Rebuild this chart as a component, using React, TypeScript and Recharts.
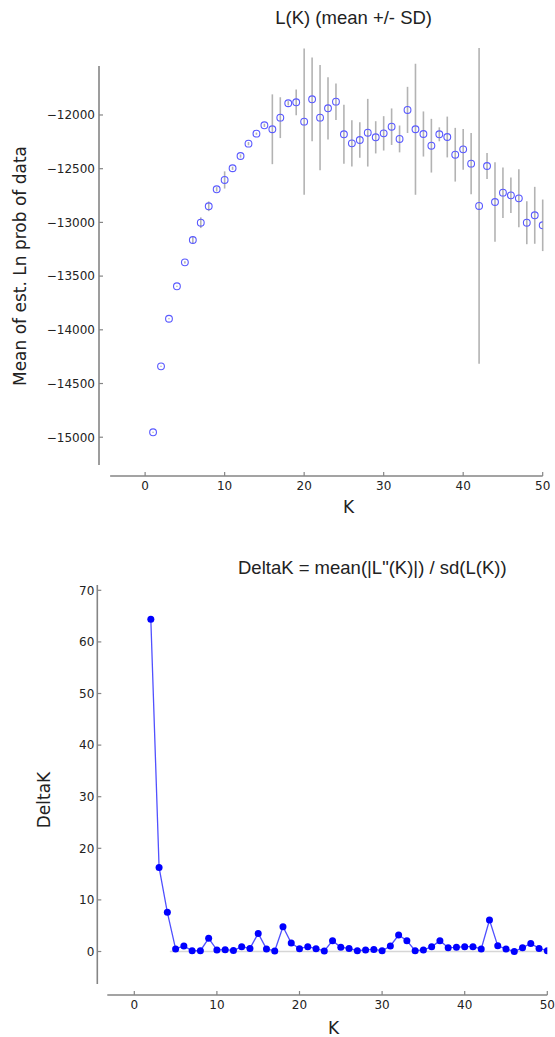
import React from 'react';
import {
  ScatterChart,
  Scatter,
  ErrorBar,
  LineChart,
  Line,
  XAxis,
  YAxis,
  ReferenceLine,
} from 'recharts';

// L(K) per K: mean and SD of the estimated ln prob of data
const K_VALUES = [
  1, 2, 3, 4, 5, 6, 7, 8, 9, 10, 11, 12, 13, 14, 15, 16, 17, 18, 19, 20, 21,
  22, 23, 24, 25, 26, 27, 28, 29, 30, 31, 32, 33, 34, 35, 36, 37, 38, 39, 40,
  41, 42, 43, 44, 45, 46, 47, 48, 49, 50,
];
const LNP_MEAN = [
  -14954, -14340, -13897, -13595, -13372, -13164, -13003, -12850, -12692,
  -12605, -12496, -12382, -12267, -12174, -12096, -12133, -12025, -11891,
  -11882, -12062, -11854, -12025, -11938, -11876, -12180, -12264, -12233,
  -12165, -12208, -12171, -12109, -12223, -11953, -12133, -12177, -12286,
  -12180, -12205, -12370, -12320, -12453, -12847, -12475, -12810, -12723,
  -12748, -12776, -13003, -12934, -13027,
];
const LNP_SD = [
  5, 5, 5, 5, 10, 35, 50, 45, 20, 80, 15, 15, 15, 10, 15, 325, 190, 20, 120,
  680, 390, 490, 290, 170, 275, 215, 165, 315, 150, 160, 170, 125, 215, 610,
  210, 250, 65, 190, 250, 190, 285, 1470, 120, 370, 235, 165, 270, 200, 265,
  240,
];

// DeltaK per K (K = 2..50)
const DELTA_K_VALUES = [
  2, 3, 4, 5, 6, 7, 8, 9, 10, 11, 12, 13, 14, 15, 16, 17, 18, 19, 20, 21, 22,
  23, 24, 25, 26, 27, 28, 29, 30, 31, 32, 33, 34, 35, 36, 37, 38, 39, 40, 41,
  42, 43, 44, 45, 46, 47, 48, 49, 50,
];
const DELTA_K = [
  64.4, 16.3, 7.6, 0.5, 1.07, 0.15, 0.15, 2.55, 0.3, 0.35, 0.2, 0.93, 0.6, 3.5,
  0.5, 0.1, 4.8, 1.65, 0.55, 0.93, 0.55, 0.1, 2.1, 0.8, 0.6, 0.15, 0.3, 0.4,
  0.15, 1.07, 3.2, 2.1, 0.15, 0.3, 0.9, 2.1, 0.75, 0.8, 0.93, 0.93, 0.5, 6.1,
  1.1, 0.5, 0.0, 0.75, 1.55, 0.6, 0.15,
];

const K_TICKS = [0, 10, 20, 30, 40, 50];
const LNP_TICKS = [-15000, -14500, -14000, -13500, -13000, -12500, -12000];
const DELTA_TICKS = [0, 10, 20, 30, 40, 50, 60, 70];

const AXIS = '#858585';
const TEXT = '#222';
const TICK_FONT = '"DejaVu Sans", sans-serif';
const TITLE_FONT = '"Liberation Sans", Arial, sans-serif';

const fmtMinus = (v: number) => (v < 0 ? `\u2212${Math.abs(v)}` : String(v));

function BottomTick({ x, y, payload }: any) {
  return (
    <g>
      <line x1={x} y1={y} x2={x} y2={y - 4} stroke={AXIS} strokeWidth={1.2} />
      <text
        x={x}
        y={y + 14}
        textAnchor="middle"
        fontSize={12}
        fontFamily={TICK_FONT}
        fill={TEXT}
      >
        {payload.value}
      </text>
    </g>
  );
}

function LeftTick({ x, y, payload, gap }: any) {
  return (
    <g>
      <line x1={x} y1={y} x2={x + 4} y2={y} stroke={AXIS} strokeWidth={1.2} />
      <text
        x={x - gap}
        y={y}
        dy="0.36em"
        textAnchor="end"
        fontSize={12}
        fontFamily={TICK_FONT}
        fill={TEXT}
      >
        {fmtMinus(payload.value)}
      </text>
    </g>
  );
}

function Ring({ cx, cy }: any) {
  if (cx == null || cy == null) return null;
  return (
    <circle cx={cx} cy={cy} r={3.4} fill="none" stroke="#5a5aff" strokeWidth={1.1} />
  );
}

export default function App() {
  const lnpData = K_VALUES.map((k, i) => ({
    k,
    mean: LNP_MEAN[i],
    sd: LNP_SD[i],
  }));
  const deltaData = DELTA_K_VALUES.map((k, i) => ({ k, d: DELTA_K[i] }));

  return (
    <div
      style={{
        position: 'absolute',
        left: 0,
        top: 0,
        width: 555,
        height: 1037,
        background: '#fff',
      }}
    >
      {/* top: L(K) mean +/- SD */}
      <div style={{ position: 'absolute', left: 0, top: 0 }}>
        <ScatterChart
          width={555}
          height={530}
          margin={{ top: 66, right: 12.3, bottom: 0, left: 0 }}
        >
          <XAxis
            type="number"
            dataKey="k"
            domain={[-5.8, 50]}
            allowDataOverflow
            ticks={K_TICKS}
            interval={0}
            height={54}
            tickSize={0}
            tickMargin={0}
            axisLine={false}
            tickLine={false}
            tick={(p: any) => <BottomTick {...p} />}
          />
          <YAxis
            type="number"
            dataKey="mean"
            domain={[-15361, -11544]}
            allowDataOverflow
            ticks={LNP_TICKS}
            interval={0}
            width={99}
            tickSize={0}
            tickMargin={0}
            axisLine={false}
            tickLine={false}
            tick={(p: any) => <LeftTick {...p} gap={4} />}
          />
          <ReferenceLine
            segment={[
              { x: -4.4, y: -15361 },
              { x: 50, y: -15361 },
            ]}
            stroke={AXIS}
            strokeWidth={1.6}
            ifOverflow="visible"
          />
          <ReferenceLine
            segment={[
              { x: -5.8, y: -15259 },
              { x: -5.8, y: -11544 },
            ]}
            stroke={AXIS}
            strokeWidth={1.6}
            ifOverflow="visible"
          />
          <Scatter
            data={lnpData}
            dataKey="mean"
            shape={(p: any) => <Ring {...p} />}
            isAnimationActive={false}
          >
            <ErrorBar
              dataKey="sd"
              direction="y"
              width={0}
              stroke="#b3b3b3"
              strokeWidth={1.6}
            />
          </Scatter>
        </ScatterChart>
      </div>

      {/* bottom: DeltaK */}
      <div style={{ position: 'absolute', left: 0, top: 530 }}>
        <LineChart
          width={555}
          height={507}
          data={deltaData}
          margin={{ top: 55, right: 7.7, bottom: 0, left: 0 }}
        >
          <XAxis
            type="number"
            dataKey="k"
            domain={[-4.48, 50]}
            allowDataOverflow
            ticks={K_TICKS}
            interval={0}
            height={42}
            tickSize={0}
            tickMargin={0}
            axisLine={false}
            tickLine={false}
            tick={(p: any) => <BottomTick {...p} />}
          />
          <YAxis
            type="number"
            domain={[-8.43, 71.03]}
            allowDataOverflow
            ticks={DELTA_TICKS}
            interval={0}
            width={97.3}
            tickSize={0}
            tickMargin={0}
            axisLine={false}
            tickLine={false}
            tick={(p: any) => <LeftTick {...p} gap={3} />}
          />
          <ReferenceLine
            segment={[
              { x: 4.3, y: 0 },
              { x: 50, y: 0 },
            ]}
            stroke="#d6d6d6"
            strokeWidth={1.7}
            ifOverflow="visible"
          />
          <ReferenceLine
            segment={[
              { x: -3.27, y: -8.43 },
              { x: 50, y: -8.43 },
            ]}
            stroke={AXIS}
            strokeWidth={1.6}
            ifOverflow="visible"
          />
          <ReferenceLine
            segment={[
              { x: -4.48, y: -6.3 },
              { x: -4.48, y: 71.03 },
            ]}
            stroke={AXIS}
            strokeWidth={1.6}
            ifOverflow="visible"
          />
          <Line
            type="linear"
            dataKey="d"
            stroke="#5050ff"
            strokeWidth={1.3}
            dot={{ r: 3.5, fill: '#0000ff', stroke: '#0000ff', strokeWidth: 0 }}
            isAnimationActive={false}
          />
        </LineChart>
      </div>

      {/* titles and axis labels */}
      <svg
        width={555}
        height={1037}
        style={{ position: 'absolute', left: 0, top: 0, pointerEvents: 'none' }}
      >
        <text
          x={432}
          y={24}
          textAnchor="end"
          fontSize={18.5}
          fontFamily={TITLE_FONT}
          fill={TEXT}
        >
          L(K) (mean +/- SD)
        </text>
        <text
          x={238}
          y={574}
          textAnchor="start"
          fontSize={18.5}
          fontFamily={TITLE_FONT}
          fill={TEXT}
        >
          DeltaK = mean(|L"(K)|) / sd(L(K))
        </text>
        <text
          x={348.5}
          y={513}
          textAnchor="middle"
          fontSize={17}
          fontFamily={TICK_FONT}
          fill={TEXT}
        >
          K
        </text>
        <text
          x={333.5}
          y={1034}
          textAnchor="middle"
          fontSize={17}
          fontFamily={TICK_FONT}
          fill={TEXT}
        >
          K
        </text>
        <text
          transform="translate(26,266) rotate(-90)"
          textAnchor="middle"
          fontSize={17}
          fontFamily={TICK_FONT}
          fill={TEXT}
        >
          Mean of est. Ln prob of data
        </text>
        <text
          transform="translate(50,800) rotate(-90)"
          textAnchor="middle"
          fontSize={17}
          fontFamily={TICK_FONT}
          fill={TEXT}
        >
          DeltaK
        </text>
      </svg>
    </div>
  );
}
